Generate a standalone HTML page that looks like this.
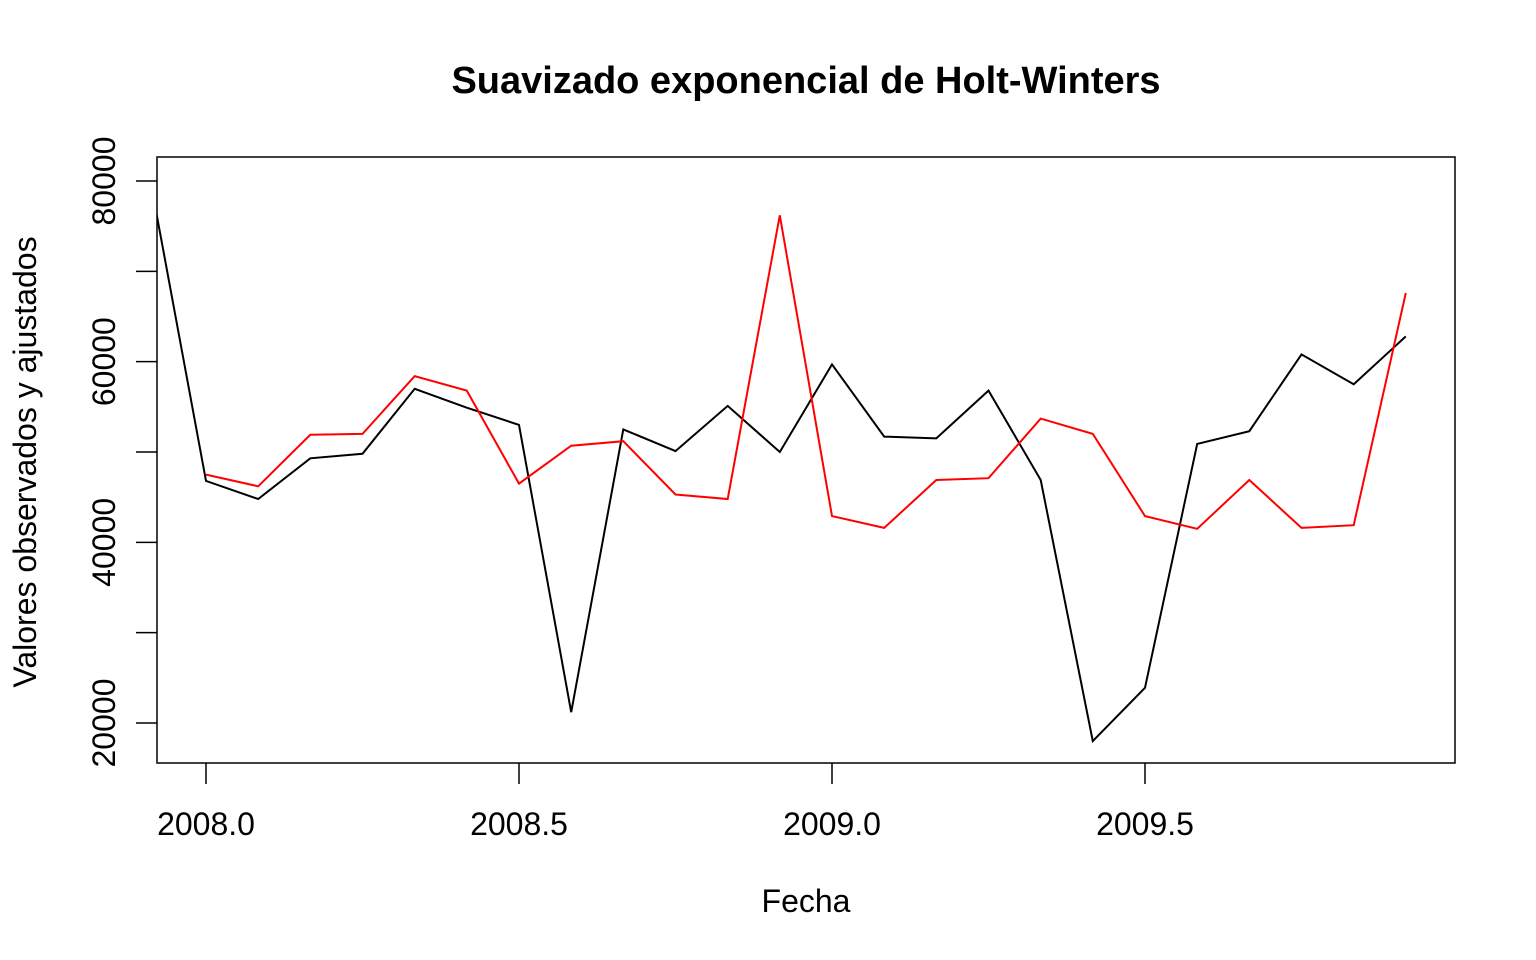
<!DOCTYPE html>
<html><head><meta charset="utf-8"><style>
html,body{margin:0;padding:0;background:#fff;}
svg{display:block;font-family:"Liberation Sans",Arial,sans-serif;}
</style></head><body>
<svg id="chart" width="1536" height="960">
<defs><clipPath id="plotclip"><rect x="157" y="157" width="1298" height="606"/></clipPath></defs>
<text x="806" y="93" text-anchor="middle" font-size="38" font-weight="bold">Suavizado exponencial de Holt-Winters</text>
<rect x="157" y="157" width="1298" height="606" fill="none" stroke="#000" stroke-width="1.5"/>
<text x="806" y="912" text-anchor="middle" font-size="32">Fecha</text>
<text transform="translate(36,462) rotate(-90)" text-anchor="middle" font-size="32">Valores observados y ajustados</text>
<g id="axes"></g>
<g id="series" clip-path="url(#plotclip)"></g>
</svg>
<script>
const observed = [78000,46800,44800,49300,49800,57000,54900,53000,21200,52500,50100,55100,50000,59700,51700,51500,56800,46900,18000,23900,50900,52300,60800,57500,62800];
const fitted = [47500,46200,51900,52000,58400,56800,46500,50700,51200,45300,44800,76200,42900,41600,46900,47100,53700,52000,42900,41500,46900,41600,41900,67600];
const observedStart = 2007 + 11/12;
const fittedStart = 2008.0;
const xTicks = [2008.0, 2008.5, 2009.0, 2009.5];
const xTickLabels = ["2008.0","2008.5","2009.0","2009.5"];
const yTicks = [20000,30000,40000,50000,60000,70000,80000];
const yTickLabels = ["20000","","40000","","60000","","80000"];

const NS = "http://www.w3.org/2000/svg";
function X(t){ return 206 + (t - 2008) * 626; }
function Y(v){ return 181 + (80000 - v) * 542 / 60000; }
const axes = document.getElementById('axes');
const series = document.getElementById('series');
function mk(tag, attrs, parent){ const e=document.createElementNS(NS,tag); for(const k in attrs) e.setAttribute(k,attrs[k]); parent.appendChild(e); return e; }

xTicks.forEach((t,i)=>{
  const l = mk('line',{x1:X(t),x2:X(t),y1:763,y2:784,stroke:'#000','stroke-width':1.5},axes);
  
  
  const tx = mk('text',{x:X(t),y:835,'text-anchor':'middle','font-size':32},axes);
  tx.textContent = xTickLabels[i];
  
  
});
yTicks.forEach((v,i)=>{
  const l = mk('line',{x1:136,x2:157,y1:Y(v),y2:Y(v),stroke:'#000','stroke-width':1.5},axes);
  
  
  if(yTickLabels[i]){
    const tx = mk('text',{transform:`translate(115,${Y(v)}) rotate(-90)`,'text-anchor':'middle','font-size':32},axes);
    tx.textContent = yTickLabels[i];
    
    
  }
});
function line(vals, start, color, name){
  const pts = vals.map((v,i)=>X(start + i/12).toFixed(1)+','+Y(v).toFixed(1)).join(' ');
  const p = mk('polyline',{points:pts,fill:'none',stroke:color,'stroke-width':2},series);
  
  
}
line(observed, observedStart, '#000', 'observed-line');
line(fitted, fittedStart, '#ff0000', 'fitted-line');
</script>
</body></html>
